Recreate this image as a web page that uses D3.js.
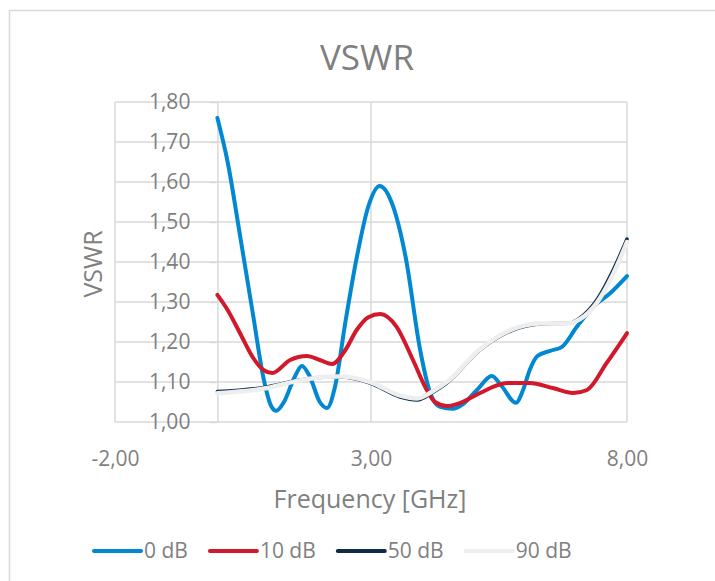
<!DOCTYPE html>
<html>
<head>
<meta charset="utf-8">
<script src="https://cdn.jsdelivr.net/npm/d3@7"></script>
<style>
    body { margin: 0; background: #fff; }
    text { font-family: "Open Sans", sans-serif; fill: #7f7f7f; }
</style>
</head>
<body>
<svg id="grafico"></svg>
<script>
// valores (frequencia em GHz, VSWR)
var freq0 = [0, 0.2, 0.45, 0.7, 0.9, 1.05, 1.15, 1.3, 1.5, 1.65, 1.8, 2.0, 2.14, 2.3, 2.5, 2.72, 2.95, 3.17, 3.4, 3.68, 3.96, 4.15, 4.35, 4.6, 4.8, 5.07, 5.36, 5.55, 5.83, 5.97, 6.1, 6.25, 6.5, 6.73, 7.02, 7.34, 7.67, 8.0]
var vswr0 = [1.76, 1.65, 1.46, 1.265, 1.11, 1.04, 1.028, 1.05, 1.11, 1.14, 1.115, 1.05, 1.035, 1.09, 1.25, 1.41, 1.54, 1.59, 1.55, 1.41, 1.18, 1.075, 1.038, 1.033, 1.045, 1.08, 1.115, 1.09, 1.048, 1.08, 1.13, 1.165, 1.178, 1.188, 1.238, 1.288, 1.322, 1.365]

var freq10 = [0, 0.2, 0.45, 0.7, 0.9, 1.07, 1.42, 1.75, 2.0, 2.24, 2.5, 2.72, 2.95, 3.18, 3.5, 3.82, 4.09, 4.25, 4.48, 4.74, 5.13, 5.66, 6.1, 6.55, 6.95, 7.22, 7.6, 8.0]
var vswr10 = [1.318, 1.28, 1.22, 1.16, 1.13, 1.1225, 1.155, 1.165, 1.155, 1.145, 1.18, 1.23, 1.262, 1.27, 1.238, 1.155, 1.08, 1.05, 1.04, 1.0475, 1.0725, 1.0975, 1.0975, 1.085, 1.0725, 1.08, 1.147, 1.222]

var freq50 = [0, 0.97, 1.61, 2.14, 2.4, 2.98, 3.57, 3.9, 4.22, 4.48, 5.13, 5.77, 6.3, 6.89, 7.08, 7.41, 7.73, 8.0]
var vswr50 = [1.076, 1.0875, 1.105, 1.1125, 1.1125, 1.0975, 1.0625, 1.055, 1.075, 1.0975, 1.18, 1.23, 1.245, 1.2475, 1.26, 1.305, 1.38, 1.4575]

var freq90 = [0, 0.97, 1.61, 2.14, 2.4, 2.98, 3.57, 3.9, 4.22, 4.48, 5.13, 5.77, 6.3, 6.89, 7.08, 7.41, 7.73, 8.0]
var vswr90 = [1.072, 1.085, 1.104, 1.113, 1.114, 1.1, 1.066, 1.059, 1.078, 1.1, 1.182, 1.232, 1.246, 1.247, 1.257, 1.298, 1.37, 1.45]

var nomesSeries = ["0 dB", "10 dB", "50 dB", "90 dB"]
var coresSeries = ["#0288d1", "#d2182b", "#0c2c48", "#eeeeee"]
var ticksX = [-2, 3, 8]
var ticksY = [1.0, 1.1, 1.2, 1.3, 1.4, 1.5, 1.6, 1.7, 1.8]

const width = 715
const height = 581

var svg = d3.select("#grafico")
    .attr("width", width)
    .attr("height", height)

// borda do grafico (so aparece em cima e na esquerda)
svg.append("rect")
    .attr("x", 9.5).attr("y", 10.5)
    .attr("width", 720).attr("height", 600)
    .attr("fill", "none")
    .attr("stroke", "#d9d9d9")
    .attr("stroke-width", 1.5)

var x = d3.scaleLinear().domain([-2, 8]).range([115, 627])
var y = d3.scaleLinear().domain([1, 1.8]).range([422, 102])

// virgula como decimal
var br = d3.formatLocale({decimal: ",", thousands: ".", grouping: [3], currency: ["", ""], minus: "-"})
var fmt = br.format(".2f")

// grades
svg.append("g")
    .selectAll("line")
    .data(ticksY)
    .join("line")
    .attr("x1", x(-2)).attr("x2", x(8))
    .attr("y1", d => y(d)).attr("y2", d => y(d))
    .attr("stroke", "#d9d9d9")
    .attr("stroke-width", 1.5)

svg.append("g")
    .selectAll("line")
    .data(ticksX)
    .join("line")
    .attr("x1", d => x(d)).attr("x2", d => x(d))
    .attr("y1", y(1.8)).attr("y2", y(1))
    .attr("stroke", "#d9d9d9")
    .attr("stroke-width", 1.5)

// eixo y cruza em x=0
var eixoY = svg.append("g")
    .attr("transform", "translate(" + x(0) + ",0)")
    .call(d3.axisLeft(y).tickValues(ticksY).tickFormat(fmt).tickSize(8).tickSizeOuter(0).tickPadding(19))
eixoY.select(".domain").attr("stroke", "#d9d9d9").attr("stroke-width", 1.5)
eixoY.selectAll(".tick line").attr("stroke", "#d9d9d9").attr("stroke-width", 1.5)
eixoY.selectAll("text").style("font-size", "21px").attr("fill", "#7f7f7f")

var eixoX = svg.append("g")
    .attr("transform", "translate(0," + y(1) + ")")
    .call(d3.axisBottom(x).tickValues(ticksX).tickFormat(fmt).tickSize(0).tickPadding(29))
eixoX.select(".domain").remove()
eixoX.selectAll("text").style("font-size", "21px").attr("fill", "#7f7f7f")

// titulos
svg.append("text")
    .attr("x", 367).attr("y", 70)
    .attr("text-anchor", "middle")
    .style("font-size", "35px")
    .text("VSWR")

svg.append("text")
    .attr("transform", "translate(102,264) rotate(-90)")
    .attr("text-anchor", "middle")
    .style("font-size", "25px")
    .text("VSWR")

svg.append("text")
    .attr("x", 370).attr("y", 508)
    .attr("text-anchor", "middle")
    .style("font-size", "25px")
    .text("Frequency [GHz]")

// linhas suavizadas
var series = [
    {nome: nomesSeries[0], xs: freq0, ys: vswr0, cor: coresSeries[0], w: 4},
    {nome: nomesSeries[1], xs: freq10, ys: vswr10, cor: coresSeries[1], w: 4},
    {nome: nomesSeries[2], xs: freq50, ys: vswr50, cor: coresSeries[2], w: 3.5},
    {nome: nomesSeries[3], xs: freq90, ys: vswr90, cor: coresSeries[3], w: 4.5}
]

var linha = d3.line()
    .x(d => x(d[0]))
    .y(d => y(d[1]))
    .curve(d3.curveMonotoneX)

svg.append("g")
    .selectAll("path")
    .data(series)
    .join("path")
    .attr("d", s => linha(d3.zip(s.xs, s.ys)))
    .attr("fill", "none")
    .attr("stroke", s => s.cor)
    .attr("stroke-width", s => s.w)
    .attr("stroke-linecap", "round")
    .attr("stroke-linejoin", "round")

// legenda
var legX = 94
var leg = svg.append("g")
series.forEach(function(s) {
    leg.append("line")
        .attr("x1", legX).attr("x2", legX + 47)
        .attr("y1", 551).attr("y2", 551)
        .attr("stroke", s.cor)
        .attr("stroke-width", 4)
        .attr("stroke-linecap", "round")
    var t = leg.append("text")
        .attr("x", legX + 50).attr("y", 558)
        .style("font-size", "21px")
        .text(s.nome)
    legX = legX + 50 + t.node().getComputedTextLength() + 22
})
</script>
</body>
</html>
